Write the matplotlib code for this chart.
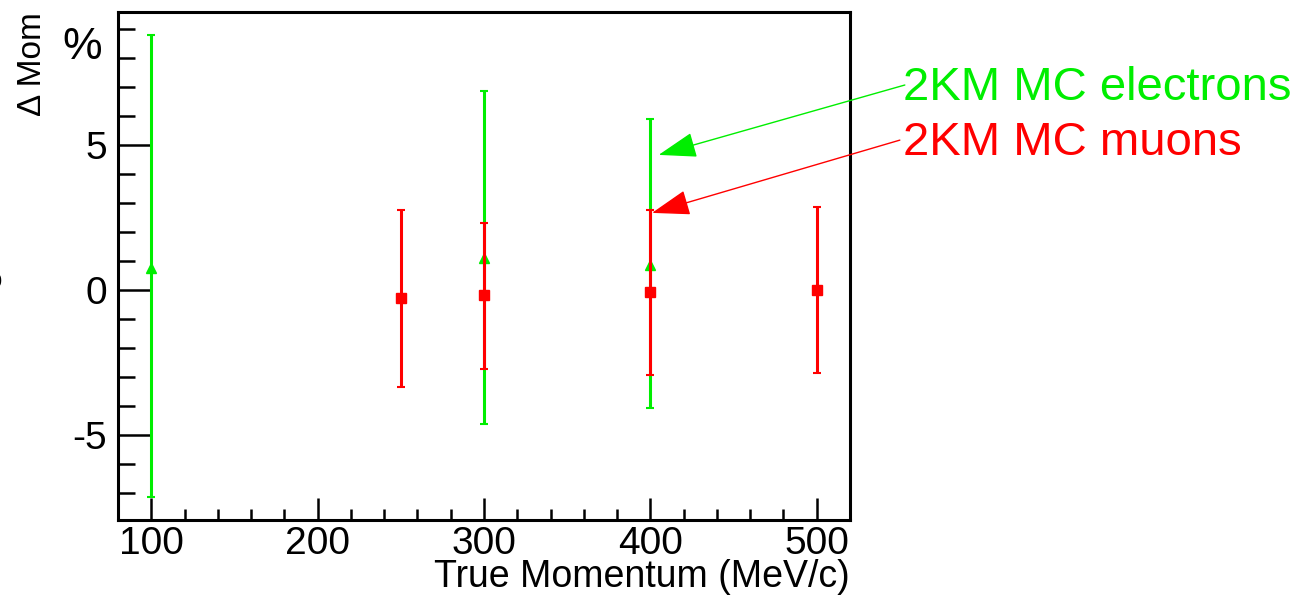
import numpy as np
import matplotlib.pyplot as plt
from matplotlib.ticker import MultipleLocator

plt.rcParams['font.family'] = ['Liberation Sans', 'DejaVu Sans']
plt.rcParams['axes.unicode_minus'] = False

# electrons (green)
e_mom = [100, 300, 400]
e_val = [0.76, 1.10, 0.86]
e_hi = [8.79, 6.86, 5.90]
e_lo = [-7.14, -4.62, -4.07]

# muons (red)
mu_mom = [250, 300, 400, 500]
mu_val = [-0.28, -0.17, -0.07, 0.0]
mu_hi = [2.76, 2.31, 2.76, 2.86]
mu_lo = [-3.34, -2.72, -2.93, -2.86]

green = '#00ee00'
red = '#ff0000'

fig = plt.figure(figsize=(13.06, 5.97), dpi=100)
ax = fig.add_axes([0.0904, 0.129, 0.5604, 0.851])

e_err = [np.array(e_val) - np.array(e_lo), np.array(e_hi) - np.array(e_val)]
mu_err = [np.array(mu_val) - np.array(mu_lo), np.array(mu_hi) - np.array(mu_val)]

ax.errorbar(e_mom, e_val, yerr=e_err, fmt='^', color=green, ms=7,
            elinewidth=2.2, capsize=3, capthick=1.5, zorder=3)
ax.errorbar(mu_mom, mu_val, yerr=mu_err, fmt='s', color=red, ms=7,
            elinewidth=2.2, capsize=3, capthick=1.5, zorder=4)

ax.set_xlim(80, 520)
ax.set_ylim(-7.93, 9.59)

ax.xaxis.set_major_locator(MultipleLocator(100))
ax.xaxis.set_minor_locator(MultipleLocator(20))
ax.yaxis.set_major_locator(MultipleLocator(5))
ax.yaxis.set_minor_locator(MultipleLocator(1))

ax.tick_params(axis='both', which='both', direction='in', top=False, right=False,
               labelsize=28, width=1.8)
ax.tick_params(axis='x', which='major', length=16, pad=4)
ax.tick_params(axis='x', which='minor', length=8)
ax.tick_params(axis='y', which='major', length=23, pad=8)
ax.tick_params(axis='y', which='minor', length=12)
for s in ax.spines.values():
    s.set_linewidth(2.2)

ax.set_xlabel('True Momentum (MeV/c)', fontsize=27, loc='right', labelpad=-2)
fig.text(0.025, 0.98, u'\u0394 Mom', rotation=90, fontsize=24, ha='center', va='top')
fig.text(0.063, 0.955, '%', fontsize=32, ha='center', va='top')
fig.text(-0.01, 1 - 281 / 597.0, 'o', fontsize=20, ha='left', va='center')

# labels with arrows
ax.annotate('', xy=(405, 4.66), xytext=(553, 7.07), annotation_clip=False,
            arrowprops=dict(arrowstyle='-|>,head_length=1.2,head_width=0.4',
                            mutation_scale=20, color=green, lw=1.0, shrinkA=0, shrinkB=0))
ax.annotate('', xy=(401, 2.66), xytext=(550, 5.17), annotation_clip=False,
            arrowprops=dict(arrowstyle='-|>,head_length=1.2,head_width=0.4',
                            mutation_scale=20, color=red, lw=1.0, shrinkA=0, shrinkB=0))
ax.text(551.6, 6.55, '2KM MC electrons', color=green, fontsize=34, clip_on=False)
ax.text(551.6, 4.66, '2KM MC muons', color=red, fontsize=34, clip_on=False)

fig.savefig('out.png', dpi=100)
